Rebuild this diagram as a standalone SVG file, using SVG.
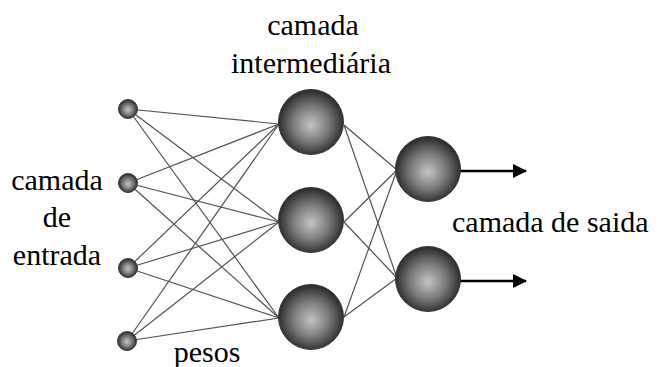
<svg xmlns="http://www.w3.org/2000/svg" width="657" height="367" viewBox="0 0 657 367">
<defs>
<radialGradient id="sph" cx="0.5" cy="0.52" r="0.5" fx="0.5" fy="0.55">
<stop offset="0" stop-color="#c4c4c4"/>
<stop offset="0.55" stop-color="#7a7a7a"/>
<stop offset="1" stop-color="#2e2e2e"/>
</radialGradient>
<marker id="arr" viewBox="0 0 14 14" refX="13" refY="7" markerWidth="14" markerHeight="14" markerUnits="userSpaceOnUse" orient="auto">
<path d="M0,0 L14,7 L0,14 z" fill="#000"/>
</marker>
</defs>
<style>
.n{fill:url(#sph);stroke:#3a3a3a;stroke-width:1}
.w{stroke:#555;stroke-width:1.2;fill:none}
.o{stroke:#000;stroke-width:2.5;fill:none;marker-end:url(#arr)}
.t{font-family:'Liberation Serif','DejaVu Serif',serif;font-size:30px;fill:#000}
</style>
<rect width="657" height="367" fill="#fff"/>
<g id="connectors">
<line class="w" x1="128" y1="109" x2="279" y2="124"/>
<line class="w" x1="128" y1="109" x2="279" y2="222"/>
<line class="w" x1="128" y1="109" x2="279" y2="318"/>
<line class="w" x1="128" y1="183" x2="279" y2="124"/>
<line class="w" x1="128" y1="183" x2="279" y2="222"/>
<line class="w" x1="128" y1="183" x2="279" y2="318"/>
<line class="w" x1="128" y1="268" x2="279" y2="124"/>
<line class="w" x1="128" y1="268" x2="279" y2="222"/>
<line class="w" x1="128" y1="268" x2="279" y2="318"/>
<line class="w" x1="127" y1="341" x2="279" y2="124"/>
<line class="w" x1="127" y1="341" x2="279" y2="222"/>
<line class="w" x1="127" y1="341" x2="279" y2="318"/>
<line class="w" x1="344" y1="125" x2="397" y2="170"/>
<line class="w" x1="344" y1="125" x2="397" y2="278"/>
<line class="w" x1="344" y1="222" x2="397" y2="170"/>
<line class="w" x1="344" y1="222" x2="397" y2="278"/>
<line class="w" x1="344" y1="317" x2="397" y2="170"/>
<line class="w" x1="344" y1="317" x2="397" y2="278"/>
<line class="o" x1="460" y1="171" x2="526" y2="171"/>
<line class="o" x1="460" y1="281" x2="526" y2="281"/>
</g>
<g id="in1"><circle class="n" cx="128" cy="109" r="9.5"/></g>
<g id="in2"><circle class="n" cx="128" cy="183" r="9.5"/></g>
<g id="in3"><circle class="n" cx="128" cy="268" r="9.5"/></g>
<g id="in4"><circle class="n" cx="127" cy="341" r="9.5"/></g>
<g id="h1"><circle class="n" cx="311" cy="122" r="32.5"/></g>
<g id="h2"><circle class="n" cx="311" cy="220" r="32.5"/></g>
<g id="h3"><circle class="n" cx="311" cy="317" r="32.5"/></g>
<g id="o1"><circle class="n" cx="428" cy="169" r="32.5"/></g>
<g id="o2"><circle class="n" cx="428" cy="279" r="32.5"/></g>
<g id="labels" class="t" font-family="Liberation Serif, DejaVu Serif, serif">
<text x="313" y="35" text-anchor="middle">camada</text>
<text x="311" y="73" text-anchor="middle">intermediária</text>
<text x="57" y="190" text-anchor="middle">camada</text>
<text x="57" y="227" text-anchor="middle">de</text>
<text x="57" y="265" text-anchor="middle">entrada</text>
<text x="452" y="232">camada de saida</text>
<text x="207" y="362" text-anchor="middle">pesos</text>
</g>
</svg>
